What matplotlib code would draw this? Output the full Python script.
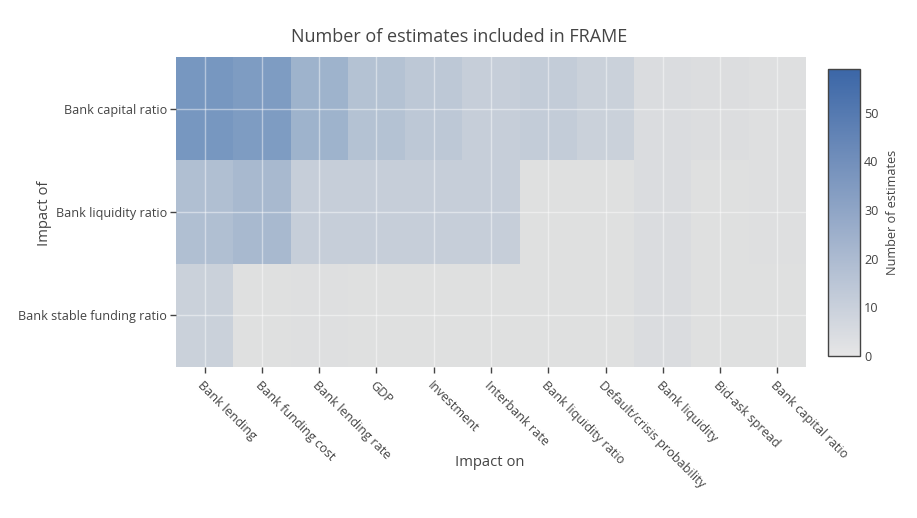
import numpy as np
import matplotlib
matplotlib.use("Agg")
import matplotlib.pyplot as plt
from matplotlib.colors import LinearSegmentedColormap, Normalize
from matplotlib.cm import ScalarMappable

plt.rcParams['font.family'] = ['Open Sans', 'DejaVu Sans']

# categories
impact_on = ["Bank lending", "Bank funding cost", "Bank lending rate", "GDP",
             "Investment", "Interbank rate", "Bank liquidity ratio",
             "Default/crisis probability", "Bank liquidity", "Bid-ask spread",
             "Bank capital ratio"]
impact_of = ["Bank capital ratio", "Bank liquidity ratio", "Bank stable funding ratio"]

# number of estimates
row_capital = [59, 55, 37, 25, 20, 15, 17, 13, 4, 3, 2]
row_liquidity = [27, 32, 15, 15, 15, 15, 1, 1, 4, 1, 2]
row_stable = [13, 1, 2, 1, 1, 1, 1, 1, 4, 1, 1]

z = np.array([row_capital, row_liquidity, row_stable])
zmax = z.max()

# colour bar at full strength, cells drawn semi-transparent (as in the source)
cmap = LinearSegmentedColormap.from_list("frame", ["#e6e6e6", "#3b66a7"])
cell_cmap = LinearSegmentedColormap.from_list("frame_cells", ["#e1e1e1", "#7797c0"])
norm = Normalize(vmin=0, vmax=zmax)
txt = "#444444"

fig = plt.figure(figsize=(9.17, 5.18), dpi=100)
ax = fig.add_axes([176/917, 1 - 367/518, 630/917, 310/518])

ax.pcolormesh(np.arange(len(impact_on) + 1) - 0.5, np.arange(len(impact_of) + 1) - 0.5,
              z, cmap=cell_cmap, norm=norm, zorder=1, edgecolors="none")
ax.set_xlim(-0.5, len(impact_on) - 0.5)
ax.set_ylim(len(impact_of) - 0.5, -0.5)

ax.set_xticks(range(len(impact_on)))
ax.set_yticks(range(len(impact_of)))
ax.set_xticklabels(impact_on, rotation=-45, ha="left", va="top",
                   rotation_mode="anchor", fontsize=9.1, color=txt)
ax.set_yticklabels(impact_of, fontsize=9.1, color=txt)
ax.tick_params(axis="both", length=4.5, width=1, color=txt, pad=2)
ax.tick_params(axis="x", pad=4)
ax.grid(True, color="white", linewidth=1, alpha=0.45, zorder=2)
ax.set_axisbelow(False)
for s in ax.spines.values():
    s.set_visible(False)

fig.text(490/917, 1 - 463/518, "Impact on", fontsize=10.6,
         color=txt, ha="center", va="center")
fig.text(44/917, 1 - 213/518, "Impact of", rotation=90, fontsize=10.6,
         color=txt, ha="center", va="center")
fig.text(459/917, 1 - 37/518, "Number of estimates included in FRAME",
         fontsize=13, color=txt, ha="center", va="center")

# colorbar
cax = fig.add_axes([828/917, 1 - 356/518, 32/917, 287/518])
cb = fig.colorbar(ScalarMappable(norm=norm, cmap=cmap), cax=cax)
cb.set_ticks([0, 10, 20, 30, 40, 50])
cb.ax.tick_params(labelsize=9.1, colors=txt, length=0, pad=3)
cb.outline.set_edgecolor(txt)
cb.outline.set_linewidth(1)
cb.set_label("Number of estimates", fontsize=9.1, color=txt, labelpad=5)

fig.savefig("out.png", dpi=100)
